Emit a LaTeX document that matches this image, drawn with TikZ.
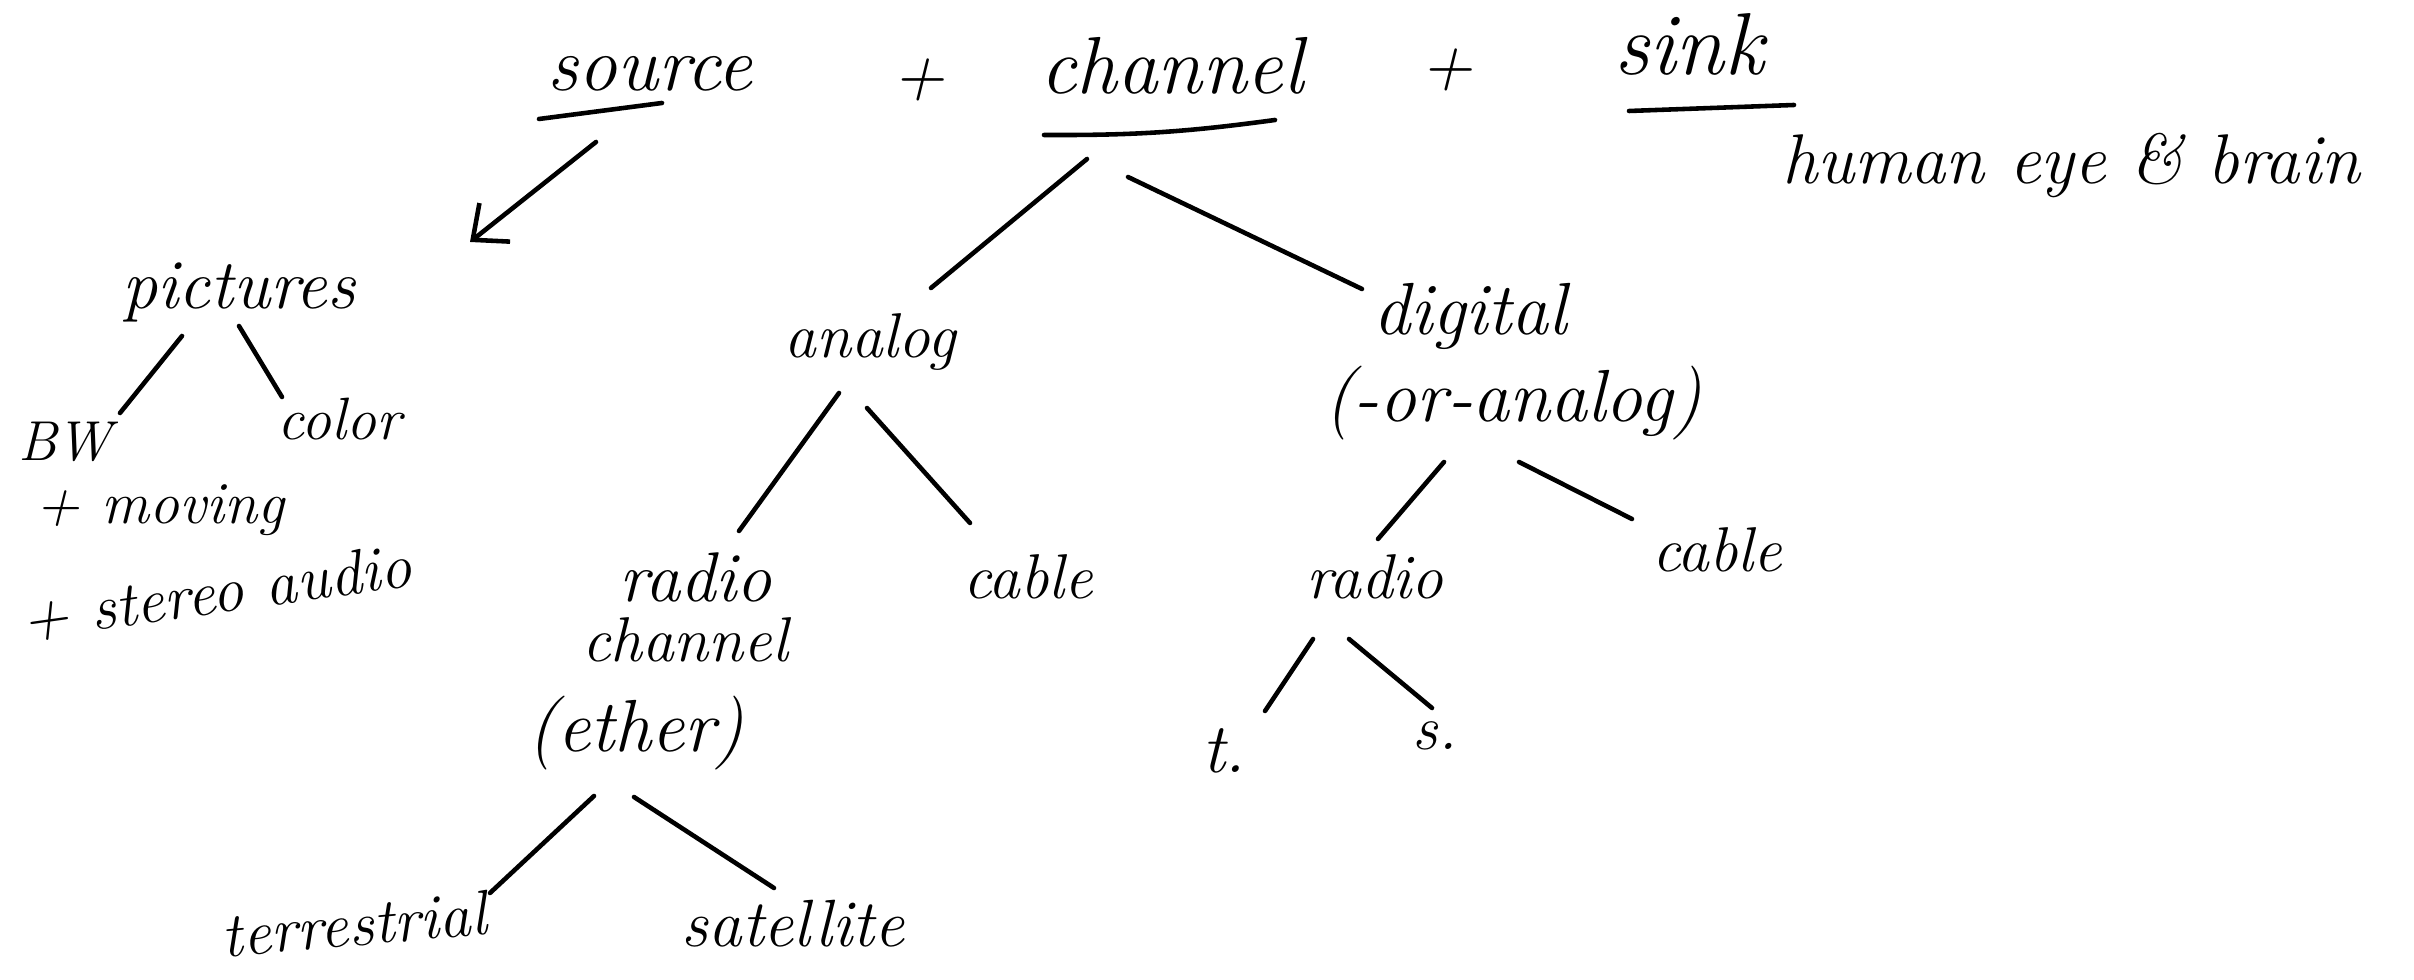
\documentclass[tikz,border=0pt]{standalone}
\usetikzlibrary{calc,arrows.meta}
\begin{document}
\begin{tikzpicture}[x=0.01cm,y=-0.01cm,
  hw/.style={font=\fontsize{#1}{#1}\selectfont\itshape, inner sep=1pt},
  hw/.default=20,
  link/.style={line width=1.3pt, line cap=round},
  ]
\useasboundingbox (0,0) rectangle (2414,980);
\fill[white] (0,0) rectangle (2414,980);

% top line: source + channel + sink
\node[hw=22] (source) at (650,74) {source};
\node[hw=20] (plus1) at (919,80) {+};
\node[hw=23] (channel) at (1172,66) {channel};
\node[hw=20] (plus2) at (1447,70) {+};
\node[hw=25] (sink) at (1689,44) {sink};
\node[hw=20] (sinkdesc) at (2071,166) {human eye \& brain};

\draw[link] ($(source)+(-111,45)$) -- ($(source)+(12,29)$);
\draw[link] ($(channel)+(-128,69)$) to[bend right=4] ($(channel)+(103,54)$);
\draw[link] ($(sink)+(-60,67)$) -- ($(sink)+(105,61)$);

% source branch
\node[hw=20] (pictures) at (239,292) {pictures};
\node[hw=16] (bw) at (65,442) {BW};
\node[hw=17] (color) at (339,419) {color};
\node[hw=17] (moving) at (160,510) {+ moving};
\node[hw=18, rotate=8] (stereo) at (216,593) {+ stereo audio};

\draw[link, -{Straight Barb[length=8pt,width=14pt]}] ($(source)+(-54,68)$) -- ($(pictures)+(231,-50)$);
\draw[link] ($(pictures)+(-57,44)$) -- ($(bw)+(55,-29)$);
\draw[link] ($(pictures)+(0,34)$) -- ($(color)+(-57,-22)$);

% channel branch
\node[hw=18] (analog) at (870,342) {analog};
\node[hw=21] (digital) at (1470,316) {digital};
\node[hw=21] (oranalog) at (1513,403) {(-or-analog)};

\draw[link] ($(channel)+(-85,93)$) -- ($(analog)+(61,-54)$);
\draw[link] ($(channel)+(-44,111)$) -- ($(digital)+(-108,-27)$);

% analog channel
\node[hw=20] (radioA) at (696,577) {radio};
\node[hw=18] (chanA) at (685,640) {channel};
\node[hw=21] (ether) at (636,733) {(ether)};
\node[hw=18] (cableA) at (1028,577) {cable};
\node[hw=18, rotate=5] (terr) at (354,924) {terrestrial};
\node[hw=19] (sat) at (793,924) {satellite};

\draw[link] ($(analog)+(-31,51)$) -- ($(radioA)+(43,-46)$);
\draw[link] ($(analog)+(-3,66)$) -- ($(cableA)+(-58,-54)$);
\draw[link] ($(ether)+(-42,63)$) -- ($(terr)+(136,-31)$);
\draw[link] ($(ether)+(-2,64)$) -- ($(sat)+(-19,-36)$);

% digital channel
\node[hw=18] (radioD) at (1375,577) {radio};
\node[hw=18] (cableD) at (1717,550) {cable};
\node[hw=20] (tt) at (1224,751) {t.};
\node[hw=18] (ss) at (1435,736) {s.};

\draw[link] ($(oranalog)+(-69,59)$) -- ($(radioD)+(3,-38)$);
\draw[link] ($(oranalog)+(6,59)$) -- ($(cableD)+(-85,-31)$);
\draw[link] ($(radioD)+(-62,62)$) -- ($(tt)+(41,-40)$);
\draw[link] ($(radioD)+(-26,62)$) -- ($(ss)+(-3,-28)$);
\end{tikzpicture}
\end{document}
